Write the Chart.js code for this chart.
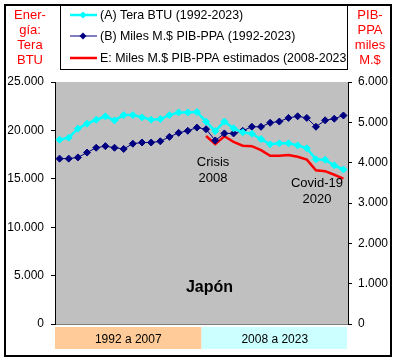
<!DOCTYPE html>
<html lang="es">
<head>
    <meta charset="UTF-8">
    <title>Japón - Energía y PIB-PPA</title>
    <script src="https://cdn.jsdelivr.net/npm/chart.js"></script>
    <style>
        body { margin: 0; padding: 0; background: #fff; }
        canvas { display: block; }
    </style>
</head>
<body>
    <canvas id="chart" width="397" height="361"></canvas>
    <script>
        // Datos
        const years = ['1992','1993','1994','1995','1996','1997','1998','1999','2000','2001','2002','2003','2004','2005','2006','2007',
                       '2008','2009','2010','2011','2012','2013','2014','2015','2016','2017','2018','2019','2020','2021','2022','2023'];
        const energyTBTU = [19040, 19250, 20180, 20690, 21100, 21450, 21030, 21580, 21580, 21350, 21100, 21170, 21580, 21860, 21860, 21900,
                            20900, 19920, 20910, 20210, 19800, 19660, 19100, 18560, 18660, 18660, 18450, 18150, 17010, 16960, 16390, 15960];
        const gdpPPA = [4100, 4100, 4130, 4250, 4370, 4410, 4370, 4340, 4470, 4500, 4500, 4530, 4640, 4740, 4790, 4870,
                        4830, 4550, 4725, 4725, 4790, 4890, 4890, 4990, 5020, 5110, 5150, 5110, 4890, 5050, 5090, 5170];
        const gdpEstimated = [null, null, null, null, null, null, null, null, null, null, null, null, null, null, null, null,
                              4660, 4460, 4655, 4515, 4420, 4410, 4310, 4170, 4170, 4190, 4145, 4075, 3810, 3790, 3700, 3605];
        const periodLabels = ['1992 a 2007', '2008 a 2023'];
        const seriesNames = ['(A) Tera BTU (1992-2023)', '(B) Miles M.$ PIB-PPA (1992-2023)', 'E: Miles M.$ PIB-PPA estimados (2008-2023'];

        const FONT = '"Liberation Sans", Arial, sans-serif';
        Chart.defaults.font.family = FONT;
        Chart.defaults.font.size = 12;
        Chart.defaults.color = '#000';

        // miles con punto: 25000 -> 25.000
        function fmt(v) {
            return String(v).replace(/\B(?=(\d{3})+(?!\d))/g, '.');
        }

        function drawLines(ctx, lines, x, y0, step) {
            lines.forEach((t, i) => ctx.fillText(t, x, y0 + i * step));
        }

        const decor = {
            id: 'decor',
            beforeDraw(chart) {
                const { ctx, chartArea: a, scales } = chart;
                ctx.save();
                ctx.fillStyle = '#fff';
                ctx.fillRect(0, 0, chart.width, chart.height);
                ctx.fillStyle = '#C0C0C0';
                ctx.fillRect(a.left, a.top, a.right - a.left, a.bottom - a.top);
                // franjas de periodo
                const split = (scales.x.getPixelForValue(15) + scales.x.getPixelForValue(16)) / 2;
                ctx.fillStyle = '#FFCC99';
                ctx.fillRect(a.left, a.bottom + 3, split - a.left, 22);
                ctx.fillStyle = '#CCFFFF';
                ctx.fillRect(split, a.bottom + 3, a.right - 1 - split, 22);
                ctx.strokeStyle = '#808080';
                ctx.lineWidth = 1;
                ctx.beginPath();
                ctx.moveTo(a.left, a.bottom + 0.5);
                ctx.lineTo(a.right, a.bottom + 0.5);
                ctx.stroke();
                ctx.restore();
            },
            afterDraw(chart) {
                const { ctx, chartArea: a, scales } = chart;
                ctx.save();
                // títulos de ejes
                ctx.fillStyle = '#FF0000';
                ctx.font = '13px ' + FONT;
                ctx.textAlign = 'center';
                ctx.textBaseline = 'middle';
                drawLines(ctx, ['Ener-', 'gía:', 'Tera', 'BTU'], 30, 15, 15);
                drawLines(ctx, ['PIB-', 'PPA', 'miles', 'M.$'], 370, 15, 15);

                // leyenda
                ctx.fillStyle = '#fff';
                ctx.fillRect(60.5, 5.5, 287, 64);
                ctx.strokeStyle = '#000';
                ctx.lineWidth = 1;
                ctx.strokeRect(60.5, 5.5, 287, 64);
                const ys = [15, 36, 58];
                chart.data.datasets.forEach((ds, i) => {
                    ctx.strokeStyle = ds.borderColor;
                    ctx.lineWidth = ds.borderWidth;
                    ctx.beginPath();
                    ctx.moveTo(70, ys[i]);
                    ctx.lineTo(97, ys[i]);
                    ctx.stroke();
                    if (ds.pointRadius > 0) {
                        ctx.fillStyle = ds.pointBackgroundColor;
                        const r = 3.5;
                        ctx.beginPath();
                        ctx.moveTo(83, ys[i] - r);
                        ctx.lineTo(83 + r, ys[i]);
                        ctx.lineTo(83, ys[i] + r);
                        ctx.lineTo(83 - r, ys[i]);
                        ctx.closePath();
                        ctx.fill();
                    }
                    ctx.fillStyle = '#000';
                    ctx.font = '12.4px ' + FONT;
                    ctx.textAlign = 'left';
                    ctx.fillText(seriesNames[i], 100, ys[i] + 0.5);
                });

                // anotaciones
                ctx.fillStyle = '#000';
                ctx.textAlign = 'center';
                ctx.font = '13px ' + FONT;
                const xCrisis = scales.x.getPixelForValue(16) + 7;
                drawLines(ctx, ['Crisis', '2008'], xCrisis, 162, 16);
                const xCovid = scales.x.getPixelForValue(28) + 1;
                drawLines(ctx, ['Covid-19', '2020'], xCovid, 183, 16);
                ctx.font = 'bold 16px ' + FONT;
                ctx.fillText('Japón', (a.left + a.right) / 2 + 8, 288);

                // marco exterior
                ctx.strokeStyle = '#000';
                ctx.lineWidth = 2;
                ctx.strokeRect(5, 5, 386, 351);
                ctx.restore();
            }
        };

        const ctx = document.getElementById('chart').getContext('2d');
        new Chart(ctx, {
            type: 'line',
            data: {
                labels: years,
                datasets: [{
                    label: seriesNames[0],
                    data: energyTBTU,
                    yAxisID: 'y',
                    borderColor: '#00FFFF',
                    backgroundColor: '#00FFFF',
                    pointBackgroundColor: '#00FFFF',
                    pointBorderColor: '#00FFFF',
                    borderWidth: 2.5,
                    pointStyle: 'rectRot',
                    pointRadius: 3.5,
                    pointBorderWidth: 1,
                    tension: 0
                }, {
                    label: seriesNames[1],
                    data: gdpPPA,
                    yAxisID: 'y1',
                    borderColor: '#000080',
                    backgroundColor: '#000080',
                    pointBackgroundColor: '#000080',
                    pointBorderColor: '#000080',
                    borderWidth: 1,
                    pointStyle: 'rectRot',
                    pointRadius: 3.5,
                    pointBorderWidth: 1,
                    tension: 0
                }, {
                    label: seriesNames[2],
                    data: gdpEstimated,
                    yAxisID: 'y1',
                    borderColor: '#FF0000',
                    backgroundColor: '#FF0000',
                    borderWidth: 2.5,
                    pointRadius: 0,
                    tension: 0
                }]
            },
            options: {
                responsive: false,
                animation: false,
                layout: { padding: { top: 82, bottom: 12, left: 0, right: 0 } },
                plugins: {
                    legend: { display: false },
                    tooltip: { enabled: false }
                },
                scales: {
                    x: {
                        display: false,
                        offset: true
                    },
                    x2: {
                        type: 'category',
                        labels: periodLabels,
                        position: 'bottom',
                        offset: true,
                        grid: { display: false, drawTicks: false },
                        border: { display: false },
                        ticks: { padding: 8, maxRotation: 0, autoSkip: false, font: { size: 12 } },
                        afterFit(scale) { scale.height = 25; }
                    },
                    y: {
                        position: 'left',
                        min: 0,
                        max: 25000,
                        ticks: { stepSize: 5000, padding: 7, callback: v => fmt(v) },
                        grid: { drawOnChartArea: false, drawTicks: true, tickLength: 4, color: '#000' },
                        border: { display: true, color: '#000', width: 1 },
                        afterFit(scale) { scale.width = 55; }
                    },
                    y1: {
                        position: 'right',
                        min: 0,
                        max: 6000,
                        ticks: { stepSize: 1000, padding: 6, callback: v => fmt(v) },
                        grid: { drawOnChartArea: false, drawTicks: true, tickLength: 4, color: '#000' },
                        border: { display: true, color: '#000', width: 1 },
                        afterFit(scale) { scale.width = 49; }
                    }
                }
            },
            plugins: [decor]
        });
    </script>
</body>
</html>
